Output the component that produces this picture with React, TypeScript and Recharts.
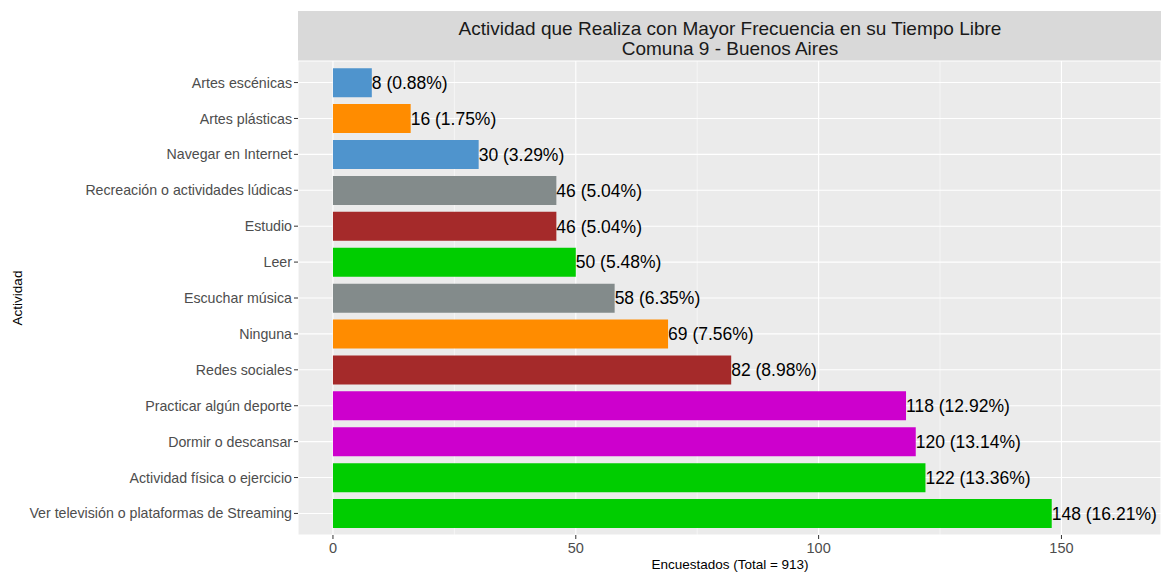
import { BarChart, Bar, XAxis, YAxis, CartesianGrid, Cell, LabelList } from "recharts";

const categories = [
  "Artes escénicas",
  "Artes plásticas",
  "Navegar en Internet",
  "Recreación o actividades lúdicas",
  "Estudio",
  "Leer",
  "Escuchar música",
  "Ninguna",
  "Redes sociales",
  "Practicar algún deporte",
  "Dormir o descansar",
  "Actividad física o ejercicio",
  "Ver televisión o plataformas de Streaming",
];
const counts = [8, 16, 30, 46, 46, 50, 58, 69, 82, 118, 120, 122, 148];
const barColors = [
  "#4F94CD", "#FF8C00", "#4F94CD", "#838B8B", "#A52A2A", "#00CD00", "#838B8B",
  "#FF8C00", "#A52A2A", "#CD00CD", "#CD00CD", "#00CD00", "#00CD00",
];
const TOTAL = 913;
const xTicks = [0, 50, 100, 150];
const minorTicks = [25, 75, 125];

const data = categories.map((name, i) => ({
  name,
  value: counts[i],
  label: `${counts[i]} (${((counts[i] / TOTAL) * 100).toFixed(2)}%)`,
}));

const W = 1162;
const H = 572;
const font = "'Liberation Sans', Arial, sans-serif";

export default function App() {
  return (
    <div style={{ position: "absolute", left: 0, top: 0, width: W, height: H, background: "#fff", fontFamily: font }}>
      <svg width={W} height={H} style={{ position: "absolute", left: 0, top: 0 }}>
        <rect x={298} y={11} width={863} height={50} fill="#D9D9D9" />
        <text x={730} y={35} textAnchor="middle" fontSize={19} fill="#1A1A1A" fontFamily={font}>
          Actividad que Realiza con Mayor Frecuencia en su Tiempo Libre
        </text>
        <text x={730} y={55} textAnchor="middle" fontSize={19} fill="#1A1A1A" fontFamily={font}>
          Comuna 9 - Buenos Aires
        </text>
        <text x={730} y={569} textAnchor="middle" fontSize={13.5} fill="#000" fontFamily={font}>
          Encuestados (Total = {TOTAL})
        </text>
        <text
          x={22}
          y={298}
          textAnchor="middle"
          fontSize={13.5}
          fill="#000"
          fontFamily={font}
          transform="rotate(-90 22 298)"
        >
          Actividad
        </text>
      </svg>
      <div style={{ position: "absolute", left: 0, top: 0 }}>
        <BarChart
          width={W}
          height={H}
          data={data}
          layout="vertical"
          margin={{ top: 61, right: 1, bottom: 0, left: 0 }}
          barCategoryGap="10%"
        >
          <CartesianGrid fill="#EBEBEB" stroke="#FFFFFF" strokeWidth={1.1} />
          <CartesianGrid horizontal={false} verticalValues={minorTicks} stroke="#FFFFFF" strokeWidth={0.5} />
          <XAxis
            type="number"
            domain={[-7.2, 170.5]}
            ticks={xTicks}
            allowDataOverflow
            height={37}
            axisLine={false}
            tickSize={4}
            tickLine={{ stroke: "#333333" }}
            tick={{ fill: "#4D4D4D", fontSize: 14.5, fontFamily: font, dy: 2 }}
          />
          <YAxis
            type="category"
            dataKey="name"
            width={298}
            padding={{ top: 3.6, bottom: 3.6 }}
            axisLine={false}
            tickSize={4}
            tickLine={{ stroke: "#333333" }}
            tick={{ fill: "#4D4D4D", fontSize: 14.2, fontFamily: font }}
            interval={0}
          />
          <Bar dataKey="value" isAnimationActive={false}>
            {data.map((d, i) => (
              <Cell key={d.name} fill={barColors[i]} />
            ))}
            <LabelList
              dataKey="label"
              position="right"
              offset={0}
              fill="#000"
              fontSize={17.5}
              fontFamily={font}
            />
          </Bar>
        </BarChart>
      </div>
    </div>
  );
}
